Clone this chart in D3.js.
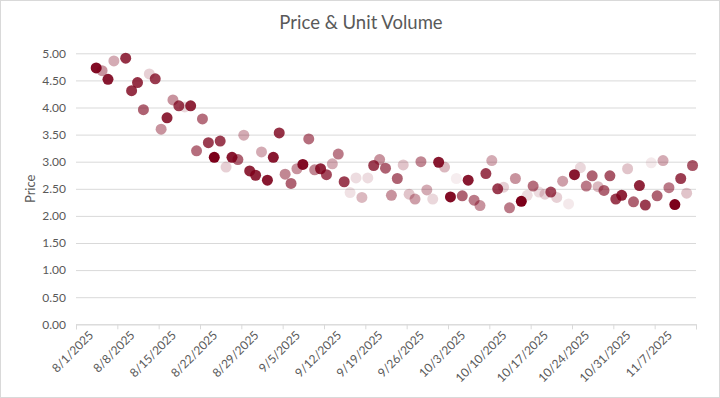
<!DOCTYPE html>
<html>
<head>
<meta charset="utf-8">
<script src="https://cdn.jsdelivr.net/npm/d3@7"></script>
<style>
  html, body { margin: 0; padding: 0; background: #fff; }
  svg { display: block; }
  text { font-family: Lato, "Open Sans", "Liberation Sans", sans-serif; fill: #595959; }
</style>
</head>
<body>
<svg id="chart" width="720" height="398"></svg>
<script>
// ---- data ----
const title = "Price & Unit Volume";
const yAxisTitle = "Price";
const dates = [
  "2025-08-04","2025-08-05","2025-08-06","2025-08-07","2025-08-09","2025-08-10","2025-08-11",
  "2025-08-12","2025-08-13","2025-08-14","2025-08-15","2025-08-16","2025-08-17","2025-08-18",
  "2025-08-19","2025-08-20","2025-08-21","2025-08-22","2025-08-23","2025-08-24","2025-08-25",
  "2025-08-26","2025-08-27","2025-08-28","2025-08-29","2025-08-30","2025-08-31","2025-09-01",
  "2025-09-02","2025-09-03","2025-09-04","2025-09-05","2025-09-06","2025-09-07","2025-09-08",
  "2025-09-09","2025-09-10","2025-09-11","2025-09-12","2025-09-13","2025-09-14","2025-09-15",
  "2025-09-16","2025-09-17","2025-09-18","2025-09-19","2025-09-20","2025-09-21","2025-09-22",
  "2025-09-23","2025-09-24","2025-09-25","2025-09-26","2025-09-27","2025-09-28","2025-09-29",
  "2025-09-30","2025-10-01","2025-10-02","2025-10-03","2025-10-04","2025-10-05","2025-10-06",
  "2025-10-07","2025-10-08","2025-10-09","2025-10-10","2025-10-11","2025-10-12","2025-10-13",
  "2025-10-14","2025-10-15","2025-10-16","2025-10-17","2025-10-18","2025-10-19","2025-10-20",
  "2025-10-21","2025-10-22","2025-10-23","2025-10-24","2025-10-25","2025-10-26","2025-10-27",
  "2025-10-28","2025-10-29","2025-10-30","2025-10-31","2025-11-01","2025-11-02","2025-11-03",
  "2025-11-04","2025-11-05","2025-11-06","2025-11-07","2025-11-08","2025-11-09","2025-11-10",
  "2025-11-11","2025-11-12","2025-11-13"
];
const prices = [
  4.73,4.68,4.52,4.86,4.91,4.31,4.46,
  3.96,4.62,4.53,3.60,3.81,4.14,4.03,
  4.01,4.03,3.20,3.79,3.35,3.08,3.38,
  2.90,3.08,3.04,3.49,2.83,2.75,3.18,
  2.66,3.08,3.53,2.77,2.60,2.87,2.95,
  3.42,2.85,2.87,2.76,2.96,3.14,2.63,
  2.43,2.70,2.34,2.70,2.93,3.04,2.88,
  2.38,2.69,2.94,2.40,2.31,3.00,2.48,
  2.31,2.99,2.90,2.35,2.69,2.37,2.66,
  2.29,2.19,2.78,3.02,2.50,2.53,2.15,
  2.69,2.27,2.38,2.55,2.44,2.40,2.44,
  2.34,2.64,2.22,2.76,2.89,2.55,2.74,
  2.54,2.47,2.74,2.31,2.38,2.87,2.26,
  2.56,2.20,2.98,2.37,3.02,2.52,2.21,
  2.69,2.42,2.93
];
// relative unit volume (drives colour intensity)
const units = [
  95,40,90,30,80,80,80,
  60,15,75,40,85,40,75,
  12,85,55,55,75,100,75,
  15,90,60,30,85,85,30,
  90,90,80,45,60,40,95,
  55,45,85,70,30,50,75,
  8,10,25,10,75,40,60,
  40,60,20,20,35,45,30,
  12,90,25,95,3,60,90,
  50,40,75,30,75,15,50,
  40,100,10,55,10,15,70,
  15,35,5,90,12,50,60,
  25,60,65,75,85,20,60,
  85,75,5,60,30,50,100,
  75,20,65
];
const yTicks = [0,0.5,1,1.5,2,2.5,3,3.5,4,4.5,5];
const xStart = "2025-08-01", xEnd = "2025-11-14";
const observationTime = "10:00"; // points sit slightly after midnight of each date

// ---- drawing ----
const W = 720, H = 398;
const margin = {left: 76, right: 24, top: 53.3, bottom: 73.7};
const svg = d3.select("#chart");
const parseDay = d3.timeParse("%Y-%m-%d");
const parseDT = d3.timeParse("%Y-%m-%d %H:%M");

const data = dates.map((d, i) => ({date: parseDT(d + " " + observationTime), price: prices[i], units: units[i]}));

const x = d3.scaleTime().domain([parseDay(xStart), parseDay(xEnd)]).range([margin.left, W - margin.right]);
const y = d3.scaleLinear().domain([0, 5]).range([H - margin.bottom, margin.top]);
const alpha = d3.scaleLinear().domain([0, 100]).range([0.04, 1]);

// chart border
svg.append("rect").attr("x", 0.5).attr("y", 0.5).attr("width", W - 1).attr("height", H - 1)
  .attr("fill", "#fff").attr("stroke", "#D9D9D9");

// title
svg.append("text").attr("x", 361).attr("y", 29).attr("text-anchor", "middle")
  .style("font-size", "18.5px").text(title);

// y axis (gridlines + labels)
const yAxis = d3.axisLeft(y).tickValues(yTicks).tickFormat(d3.format(".2f"))
  .tickSize(-(W - margin.left - margin.right)).tickPadding(10);
const gy = svg.append("g").attr("transform", `translate(${margin.left},0)`).call(yAxis);
gy.select(".domain").remove();
gy.selectAll(".tick line").attr("stroke", "#D9D9D9").attr("stroke-width", 1);
gy.selectAll(".tick text").style("font-size", "12px").attr("fill", "#595959")
  .style("font-family", "Lato, 'Open Sans', sans-serif");

// x axis: weekly ticks (Fridays) from start to end
const xTickDates = d3.timeFriday.range(parseDay(xStart), d3.timeDay.offset(parseDay(xEnd), 1));
const fmt = d3.timeFormat("%-m/%-d/%Y");
const lastTick = +parseDay(xEnd);
const xAxis = d3.axisBottom(x).tickValues(xTickDates)
  .tickFormat(d => (+d === lastTick ? "" : fmt(d))).tickSize(5).tickPadding(3);
const gx = svg.append("g").attr("transform", `translate(0,${H - margin.bottom})`).call(xAxis);
gx.select(".domain").attr("stroke", "#D9D9D9");
gx.selectAll(".tick line").attr("stroke", "#D9D9D9");
gx.selectAll(".tick text")
  .style("font-size", "12px").attr("fill", "#595959")
  .attr("text-anchor", "end")
  .attr("transform", "translate(6,0) rotate(-45)")
  .attr("dy", "0.71em");

// y axis title
svg.append("text").attr("transform", `translate(35,${(margin.top + H - margin.bottom) / 2}) rotate(-90)`)
  .attr("text-anchor", "middle").style("font-size", "13px").text(yAxisTitle);

// points
svg.append("g").selectAll("circle").data(data).join("circle")
  .attr("cx", d => x(d.date))
  .attr("cy", d => y(d.price))
  .attr("r", 5.5)
  .attr("fill", "rgb(124,0,26)")
  .attr("fill-opacity", d => alpha(d.units));
</script>
</body>
</html>
